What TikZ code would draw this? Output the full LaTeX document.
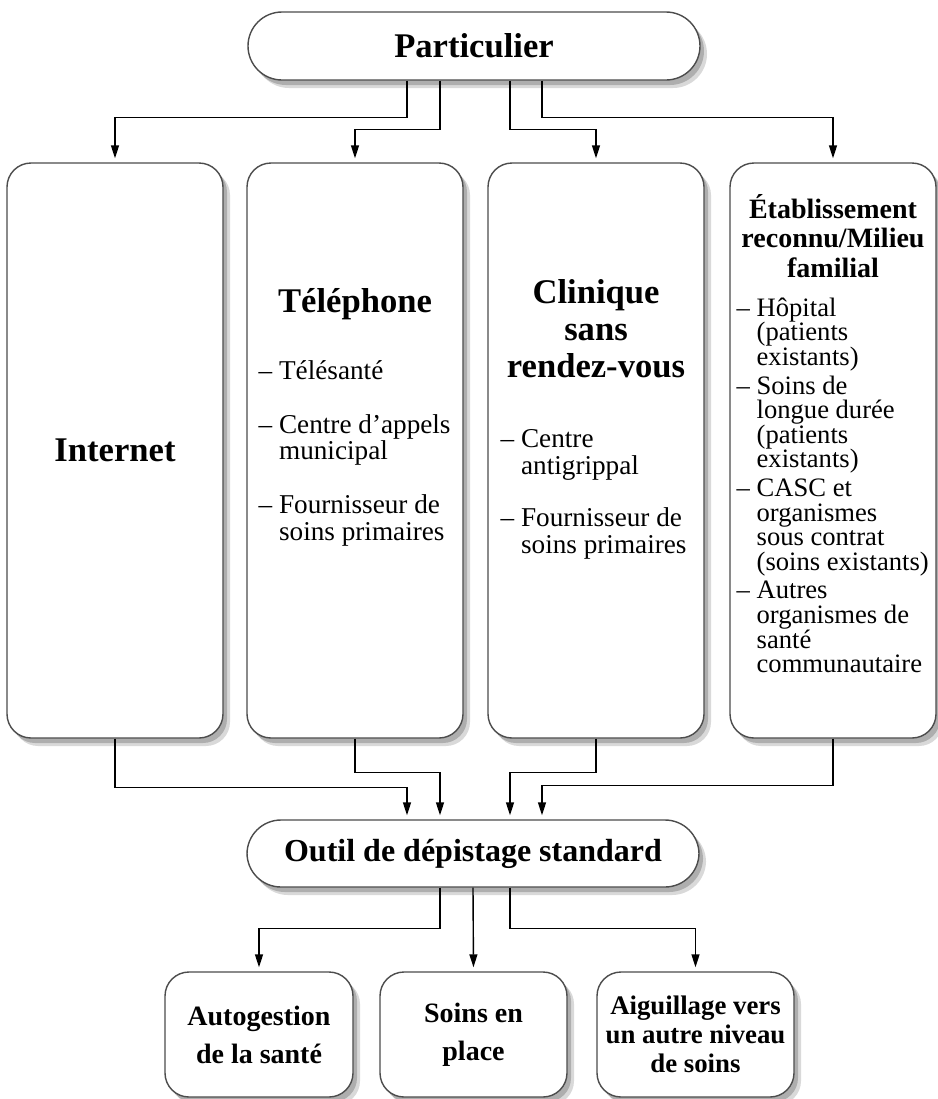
\documentclass[tikz,border=0pt]{standalone}
\usepackage{fontspec}
\setmainfont{Liberation Serif}
\usetikzlibrary{arrows.meta,calc,shadows}

\newcommand{\bigtitle}{\fontsize{17.3}{18.5}\selectfont\bfseries}
\newcommand{\smalltitle}{\fontsize{14}{14.9}\selectfont\bfseries}
\newcommand{\listfont}{\fontsize{13.6}{13.3}\selectfont\lineskiplimit=-6pt}
\newcommand{\etabfont}{\fontsize{13.3}{12.3}\selectfont\lineskiplimit=-6pt}
\newcommand{\ind}{\phantom{--\ }}

\begin{document}
\begin{tikzpicture}[x=0.5pt, y=-0.5pt, line width=0.7pt,
    box/.style={draw=black!70, fill=white, rounded corners=12pt,
      drop shadow={shadow xshift=3.5pt, shadow yshift=-4pt, opacity=0.15, fill=black},
      drop shadow={shadow xshift=2pt, shadow yshift=-2.5pt, opacity=0.2, fill=black}},
    pill/.style={box, rounded corners=17pt, minimum width=226pt},
    col/.style={box, minimum width=108pt, minimum height=287.5pt},
    leaf/.style={box, minimum height=62.5pt, inner sep=2pt, align=center},
    list/.style={font=\listfont, align=left, inner sep=0pt, anchor=north west},
    arr/.style={-{Triangle[length=6.5pt,width=4pt]}, shorten >=2pt}]
  \useasboundingbox (0,0) rectangle (938,1099);

  % -=-=-=-=- SOURCE -=-=-=-=-
  \node[pill, minimum height=34pt, font=\bigtitle] (part) at (474,46) {Particulier};

  % -=-=-=-=- ENTRY POINTS -=-=-=-=-
  \node[col, font=\bigtitle] (inet) at (115,450.5) {Internet};
  \node[col] (tel) at (355,450.5) {};
  \node[col] (clin) at (596,450.5) {};
  \node[col, minimum width=103pt] (etab) at (833,450.5) {};

  \node[font=\bigtitle] (telT) at (355,304) {Téléphone};
  \node[list] (telL) at (258,360) {-- Télésanté\\[13.5pt]
    -- Centre d'appels\\ \ind municipal\\[13.5pt]
    -- Fournisseur de\\ \ind soins primaires};

  \node[font=\bigtitle, align=center] (clinT) at (596,329) {Clinique\\sans\\rendez-vous};
  \node[list] (clinL) at (500,429) {-- Centre\\ \ind antigrippal\\[13pt]
    -- Fournisseur de\\ \ind soins primaires};

  \node[font=\smalltitle, align=center] (etabT) at (833,236) {Établissement\\reconnu/Milieu\\familial};
  \node[list, font=\etabfont] (etabL) at (736,297) {-- Hôpital\\ \ind (patients\\ \ind existants)\\[2pt]
    -- Soins de\\ \ind longue durée\\ \ind (patients\\ \ind existants)\\[2pt]
    -- CASC et\\ \ind organismes\\ \ind sous contrat\\ \ind (soins existants)\\[2pt]
    -- Autres\\ \ind organismes de\\ \ind santé\\ \ind communautaire};

  % -=-=-=-=- SCREENING -=-=-=-=-
  \node[pill, minimum height=33.5pt, font=\fontsize{16}{17}\selectfont\bfseries] (outil) at (473,853.5) {Outil de dépistage standard};

  % -=-=-=-=- OUTCOMES -=-=-=-=-
  \node[leaf, minimum width=94pt, font=\fontsize{14}{19}\selectfont\bfseries] (auto) at (259,1034.5) {Autogestion\\de la santé};
  \node[leaf, minimum width=93.5pt, font=\fontsize{14}{19}\selectfont\bfseries] (place) at (473.5,1034.5) {Soins en\\place};
  \node[leaf, minimum width=98.5pt, font=\fontsize{13.4}{14.5}\selectfont\bfseries] (aig) at (695.5,1034.5) {Aiguillage vers\\un autre niveau\\de soins};

  % -=-=-=-=- ARROWS -=-=-=-=-
  \draw[arr] (part.south) ++(-67,0) -- ++(0,37) -| (inet.north);
  \draw[arr] (part.south) ++(-34,0) -- ++(0,49) -| (tel.north);
  \draw[arr] (part.south) ++(36,0) -- ++(0,49) -| (clin.north);
  \draw[arr] (part.south) ++(68,0) -- ++(0,37) -| (etab.north);

  \draw[arr] (inet.south) -- ++(0,49) -| ($(outil.north)+(-66,0)$);
  \draw[arr] (tel.south) -- ++(0,34) -| ($(outil.north)+(-33,0)$);
  \draw[arr] (clin.south) -- ++(0,34) -| ($(outil.north)+(37,0)$);
  \draw[arr] (etab.south) -- ++(0,47) -| ($(outil.north)+(69,0)$);

  \draw[arr] (outil.south) ++(-33,0) -- ++(0,41) -| (auto.north);
  \draw[arr] (outil.south) -- (place.north);
  \draw[arr] (outil.south) ++(37,0) -- ++(0,41) -| (aig.north);
\end{tikzpicture}
\end{document}
